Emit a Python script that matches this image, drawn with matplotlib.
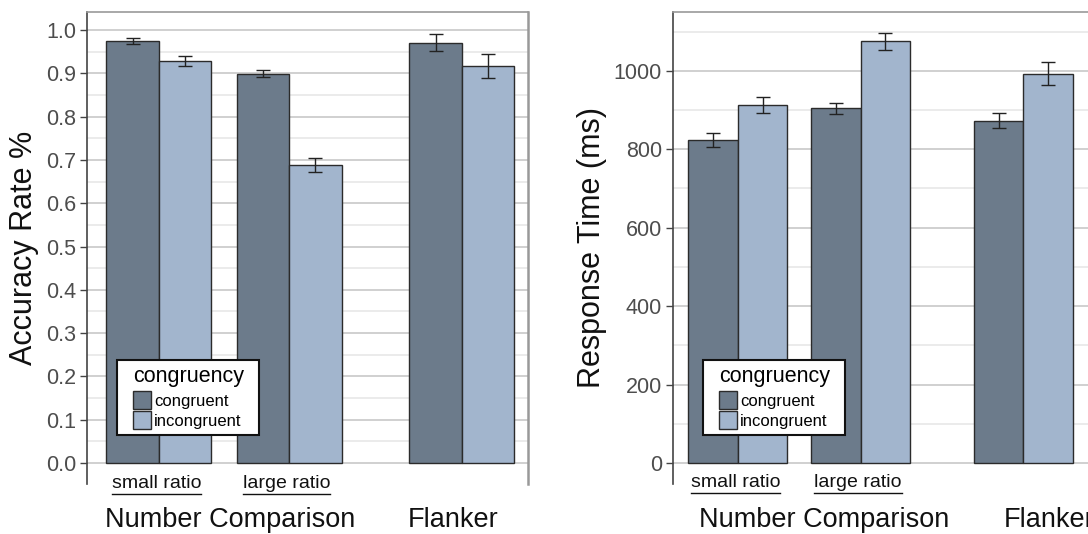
import numpy as np
import matplotlib
matplotlib.use('Agg')
import matplotlib.pyplot as plt
from matplotlib.patches import Patch, Rectangle
from matplotlib.lines import Line2D

plt.rcParams['font.family'] = ['Liberation Sans', 'DejaVu Sans']

# data
subgroups = ['small ratio', 'large ratio', '']
tasks = ['Number Comparison', 'Flanker']
conditions = ['congruent', 'incongruent']

acc_cong = [0.974, 0.899, 0.971]
acc_cong_err = [0.007, 0.0075, 0.019]
acc_incong = [0.929, 0.689, 0.917]
acc_incong_err = [0.012, 0.016, 0.0275]

rt_cong = [824, 904, 873]
rt_cong_err = [17, 15, 20]
rt_incong = [912, 1075, 993]
rt_incong_err = [20, 21, 29]

col_cong = '#6C7B8B'
col_incong = '#A2B5CD'
tick_col = '#4D4D4D'

pos = np.array([0, 2.48, 5.77])
w = 1.0
px = 0.72  # points per pixel at dpi 100

fig = plt.figure(figsize=(10.88, 5.34), dpi=100)
ax1 = fig.add_axes([87/1088, 50/534, 441/1088, 472/534])
ax2 = fig.add_axes([673/1088, 50/534, 441/1088, 472/534])

sublabels = []
legends = []


def panel(ax, cong, cerr, incong, ierr, xlim, ylim, major, minor, ylabel, fmt, shifts):
    ax.bar(pos - w/2, cong, w, color=col_cong, edgecolor='#2b2b2b', lw=1, zorder=3)
    ax.bar(pos + w/2, incong, w, color=col_incong, edgecolor='#2b2b2b', lw=1, zorder=3)
    ax.errorbar(pos - w/2, cong, yerr=cerr, fmt='none', ecolor='#222222', elinewidth=1,
                capsize=4.7, capthick=1, zorder=4)
    ax.errorbar(pos + w/2, incong, yerr=ierr, fmt='none', ecolor='#222222', elinewidth=1,
                capsize=4.7, capthick=1, zorder=4)
    ax.set_xlim(*xlim)
    ax.set_ylim(*ylim)
    ax.set_yticks(major)
    ax.set_yticks(minor, minor=True)
    ax.set_yticklabels([fmt(v) for v in major])
    ax.grid(axis='y', which='major', color='#C4C4C4', lw=1.1, zorder=0)
    ax.grid(axis='y', which='minor', color='#E6E6E6', lw=1.1, zorder=0)
    ax.set_xticks([])
    ax.tick_params(axis='y', which='major', length=5, width=1, color='#444444',
                   labelsize=15.5, labelcolor=tick_col, pad=3)
    ax.tick_params(axis='y', which='minor', length=0)
    ax.spines['bottom'].set_visible(False)
    ax.spines['left'].set_color('#444444')
    ax.spines['left'].set_linewidth(1.2)
    ax.spines['top'].set_color('#999999')
    ax.spines['top'].set_linewidth(1.2)
    ax.spines['right'].set_color('#999999')
    ax.spines['right'].set_linewidth(1.8)
    ax.set_ylabel(ylabel, fontsize=22, color='#111111', labelpad=5)
    for p, s in zip(pos, subgroups):
        if s:
            t = ax.annotate(s, xy=(p - 0.05, 0), xycoords='data',
                            xytext=(0, -14.4), textcoords='offset points',
                            ha='center', va='center', fontsize=14, color='#111111',
                            annotation_clip=False)
            sublabels.append(t)
    ax.annotate(tasks[0], xy=((pos[0] + pos[1]) / 2, 0), xycoords='data',
                xytext=(shifts[0] * px, -41), textcoords='offset points',
                ha='center', va='center', fontsize=19.5, color='#111111',
                annotation_clip=False)
    ax.annotate(tasks[1], xy=(pos[2], 0), xycoords='data',
                xytext=(shifts[1] * px, -41), textcoords='offset points',
                ha='center', va='center', fontsize=19.5, color='#111111',
                annotation_clip=False)
    handles = [Patch(facecolor=col_cong, edgecolor='#2b2b2b', label=conditions[0]),
               Patch(facecolor=col_incong, edgecolor='#2b2b2b', label=conditions[1])]
    leg = ax.legend(handles=handles, title='congruency', loc='lower left',
                    bbox_to_anchor=(46/441, 55/472), fontsize=12, title_fontsize=15.5,
                    frameon=False, handlelength=1.1, handleheight=1.25,
                    handletextpad=0.15, labelspacing=0.15, borderpad=0,
                    borderaxespad=0)
    leg._legend_box.align = 'left'
    leg._legend_box.sep = 3
    leg.set_zorder(6)
    legends.append((ax, leg))


panel(ax1, acc_cong, acc_cong_err, acc_incong, acc_incong_err, (-1.37, 7.03),
      (-0.0485, 1.0416), np.arange(0, 1.01, 0.1), np.arange(0.05, 1.04, 0.1),
      'Accuracy Rate %', lambda v: f'{v:.1f}', (6, -9))
panel(ax2, rt_cong, rt_cong_err, rt_incong, rt_incong_err, (-1.31, 7.6),
      (-53.6, 1150), np.arange(0, 1001, 200), np.arange(100, 1150, 200),
      'Response Time (ms)', lambda v: f'{v:.0f}', (25, 26))

fig.canvas.draw()
r = fig.canvas.get_renderer()

# underline the subgroup labels
for t in sublabels:
    bb = t.get_window_extent(r)
    y = bb.y0 - 2
    fig.add_artist(Line2D([bb.x0, bb.x1], [y, y], transform=None,
                          color='#111111', lw=1))

# legend box with wider side padding
for ax, leg in legends:
    bb = leg.get_window_extent(r)
    ax.add_patch(Rectangle((bb.x0 - 16, bb.y0 - 6), bb.width + 31, bb.height + 12,
                           transform=None, facecolor='white', edgecolor='#111111',
                           lw=1.5, zorder=5, clip_on=False))

fig.savefig('out.png', dpi=100)
